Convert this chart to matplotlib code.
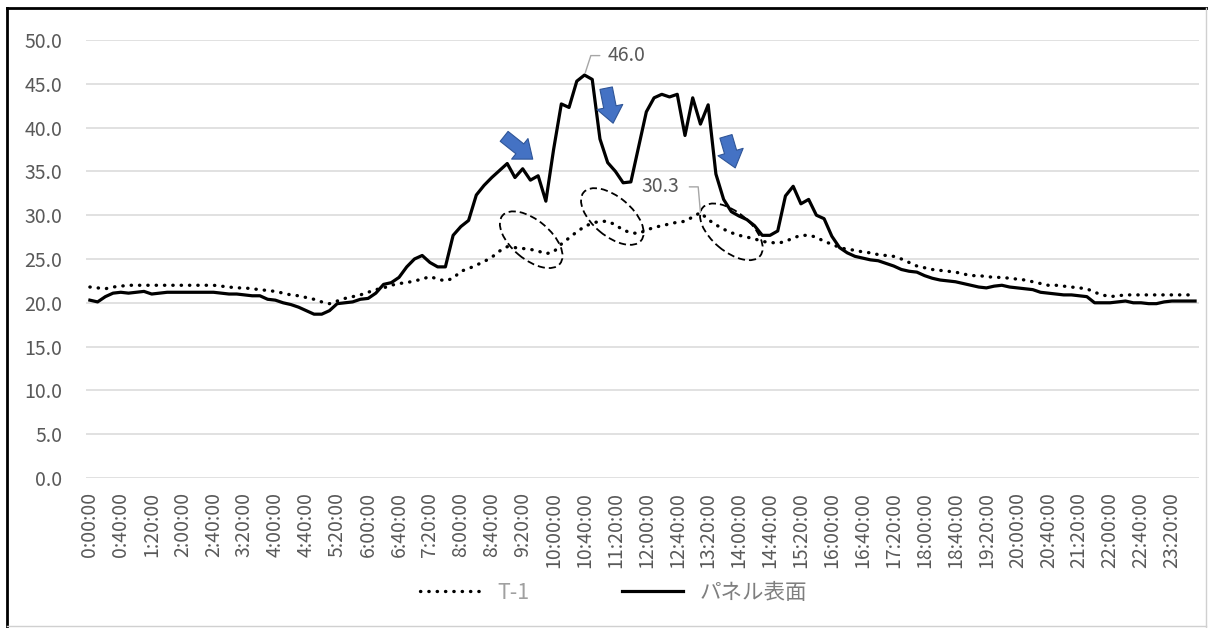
import matplotlib
matplotlib.use('Agg')
import matplotlib.pyplot as plt
from matplotlib.patches import Ellipse
from matplotlib.lines import Line2D
from matplotlib.transforms import ScaledTranslation

plt.rcParams['font.family'] = ['Noto Sans CJK JP', 'DejaVu Sans']

# 10-minute readings, 0:00:00 .. 23:50:00 (144 points)
t1 = [
    21.8, 21.7, 21.6, 21.8, 21.9, 22.0, 22.0, 22.0, 22.0, 22.0, 22.0, 22.0,
    22.0, 22.0, 22.0, 22.0, 22.0, 21.9, 21.8, 21.7, 21.7, 21.6, 21.5, 21.4,
    21.3, 21.1, 20.9, 20.8, 20.6, 20.4, 20.1, 19.9, 20.2, 20.5, 20.7, 20.9,
    21.2, 21.5, 21.7, 22.0, 22.2, 22.3, 22.5, 22.7, 23.0, 22.7, 22.5, 22.8,
    23.6, 23.9, 24.3, 24.7, 25.2, 25.9, 26.4, 26.3, 26.2, 26.1, 25.9, 25.6,
    25.8, 26.7, 27.4, 28.1, 28.7, 29.1, 29.3, 29.3, 28.9, 28.3, 28.0, 27.9,
    28.3, 28.6, 28.8, 29.0, 29.2, 29.3, 29.8, 30.3, 29.5, 28.9, 28.4, 28.0,
    27.7, 27.5, 27.3, 27.0, 26.9, 26.8, 27.0, 27.4, 27.7, 27.7, 27.5, 27.0,
    26.7, 26.3, 26.1, 26.0, 25.8, 25.7, 25.5, 25.4, 25.3, 25.0, 24.6, 24.2,
    24.0, 23.8, 23.7, 23.6, 23.5, 23.3, 23.1, 23.1, 23.0, 22.9, 22.9, 22.8,
    22.7, 22.6, 22.4, 22.2, 22.0, 22.0, 21.9, 21.8, 21.7, 21.6, 21.2, 20.9,
    20.7, 20.8, 20.9, 20.9, 20.9, 20.9, 20.9, 20.9, 20.9, 20.9, 20.9, 20.9,
]
panel = [
    20.3, 20.1, 20.7, 21.1, 21.2, 21.1, 21.2, 21.3, 21.0, 21.1, 21.2, 21.2,
    21.2, 21.2, 21.2, 21.2, 21.2, 21.1, 21.0, 21.0, 20.9, 20.8, 20.8, 20.4,
    20.3, 20.0, 19.8, 19.5, 19.1, 18.7, 18.7, 19.1, 19.9, 20.0, 20.1, 20.4,
    20.5, 21.1, 22.1, 22.3, 22.9, 24.1, 25.0, 25.4, 24.6, 24.1, 24.1, 27.7,
    28.7, 29.4, 32.3, 33.4, 34.3, 35.1, 35.9, 34.3, 35.3, 34.0, 34.5, 31.6,
    37.5, 42.7, 42.3, 45.3, 46.0, 45.5, 38.7, 36.0, 35.0, 33.7, 33.8, 37.8,
    41.8, 43.4, 43.8, 43.5, 43.8, 39.1, 43.4, 40.4, 42.6, 34.7, 31.8, 30.4,
    29.9, 29.5, 28.8, 27.7, 27.7, 28.2, 32.2, 33.3, 31.3, 31.8, 30.0, 29.6,
    27.6, 26.3, 25.7, 25.3, 25.1, 24.9, 24.8, 24.5, 24.2, 23.8, 23.6, 23.5,
    23.1, 22.8, 22.6, 22.5, 22.4, 22.2, 22.0, 21.8, 21.7, 21.9, 22.0, 21.8,
    21.7, 21.6, 21.5, 21.2, 21.1, 21.0, 20.9, 20.9, 20.8, 20.7, 20.0, 20.0,
    20.0, 20.1, 20.2, 20.0, 20.0, 19.9, 19.9, 20.1, 20.2, 20.2, 20.2, 20.2,
]
tick_labels = ['0:00:00', '0:40:00', '1:20:00', '2:00:00', '2:40:00', '3:20:00',
               '4:00:00', '4:40:00', '5:20:00', '6:00:00', '6:40:00', '7:20:00',
               '8:00:00', '8:40:00', '9:20:00', '10:00:00', '10:40:00', '11:20:00',
               '12:00:00', '12:40:00', '13:20:00', '14:00:00', '14:40:00', '15:20:00',
               '16:00:00', '16:40:00', '17:20:00', '18:00:00', '18:40:00', '19:20:00',
               '20:00:00', '20:40:00', '21:20:00', '22:00:00', '22:40:00', '23:20:00']

panel_peak = 64   # 46.0
t1_peak = 79      # 30.3

# blue arrows (tail, tip) and dashed ellipse centres, in data units
arrows = [((53.6, 39.0), (57.3, 36.4)),
          ((66.8, 44.5), (67.7, 40.5)),
          ((82.3, 39.0), (83.5, 35.4))]
ellipses = [(57.1, 27.2), (67.6, 29.85), (83.0, 28.1)]

fig = plt.figure(figsize=(12.08, 6.28), dpi=100)
ax = fig.add_axes([0.0712, 0.2389, 0.9213, 0.6974])

x = list(range(len(panel)))
ax.plot(x, t1, color='black', lw=2.4, linestyle=(0, (0.1, 2.4)),
        dash_capstyle='round', label='T-1')
ax.plot(x, panel, color='black', lw=2.3, label='パネル表面')

ax.set_xlim(-0.5, len(panel) - 0.5)
ax.set_ylim(0, 50)
ax.set_yticks(range(0, 51, 5))
ax.set_yticklabels([f'{v:.1f}' for v in range(0, 51, 5)])
ax.set_xticks(range(0, len(panel), 4))
ax.set_xticklabels(tick_labels, rotation=90)
ax.tick_params(length=0, labelsize=14, labelcolor='#595959')
ax.tick_params(axis='x', pad=10)
ax.tick_params(axis='y', pad=17)
ax.grid(axis='y', color='#D9D9D9', lw=1.1)
ax.set_axisbelow(True)
for s in ax.spines.values():
    s.set_visible(False)

# data labels with leader lines
ax.annotate(f'{panel[panel_peak]:.1f}', xy=(panel_peak, panel[panel_peak]),
            xytext=(17, 14), textcoords='offset points', ha='left', va='center',
            fontsize=14, color='#595959',
            arrowprops=dict(arrowstyle='-', color='#A6A6A6', lw=1,
                            connectionstyle='angle,angleA=0,angleB=72,rad=0',
                            relpos=(0, 0.5), shrinkA=4, shrinkB=2))
ax.annotate(f'{t1[t1_peak]:.1f}', xy=(t1_peak, t1[t1_peak]),
            xytext=(-15, 18.5), textcoords='offset points', ha='right', va='center',
            fontsize=14, color='#595959',
            arrowprops=dict(arrowstyle='-', color='#A6A6A6', lw=1,
                            connectionstyle='angle,angleA=0,angleB=95,rad=0',
                            relpos=(1, 0.5), shrinkA=5, shrinkB=0))

for tail, tip in arrows:
    ax.annotate('', xy=tip, xytext=tail,
                arrowprops=dict(arrowstyle='simple,head_length=0.85,head_width=1.35,tail_width=0.65',
                                mutation_scale=14, fc='#4472C4', ec='#2F5597', lw=0.8,
                                shrinkA=0, shrinkB=0))

for cx, cy in ellipses:
    tr = fig.dpi_scale_trans + ScaledTranslation(cx, cy, ax.transData)
    ax.add_patch(Ellipse((0, 0), 0.75, 0.39, angle=-40, transform=tr, fill=False,
                         ec='black', lw=1.3, ls=(0, (4, 2.2))))

leg = fig.legend(loc='center', bbox_to_anchor=(0.508, 0.056), ncol=2, frameon=False,
                 fontsize=15.5, handlelength=2.8, handletextpad=0.8, columnspacing=4.3)
leg.get_texts()[0].set_color('#A0A0A0')
leg.get_texts()[1].set_color('#7F7F7F')

# screenshot frame
fig.add_artist(Line2D([7 / 1208, 7 / 1208], [0, 1 - 8 / 628], transform=fig.transFigure,
                      color='black', lw=2))
fig.add_artist(Line2D([7 / 1208, 1], [1 - 8 / 628, 1 - 8 / 628], transform=fig.transFigure,
                      color='black', lw=2))
fig.add_artist(Line2D([1206 / 1208, 1206 / 1208], [0, 1 - 8 / 628], transform=fig.transFigure,
                      color='#D0D0D0', lw=1))
fig.add_artist(Line2D([7 / 1208, 1206 / 1208], [2 / 628, 2 / 628], transform=fig.transFigure,
                      color='#D0D0D0', lw=1))

fig.savefig('out.png', dpi=100)
